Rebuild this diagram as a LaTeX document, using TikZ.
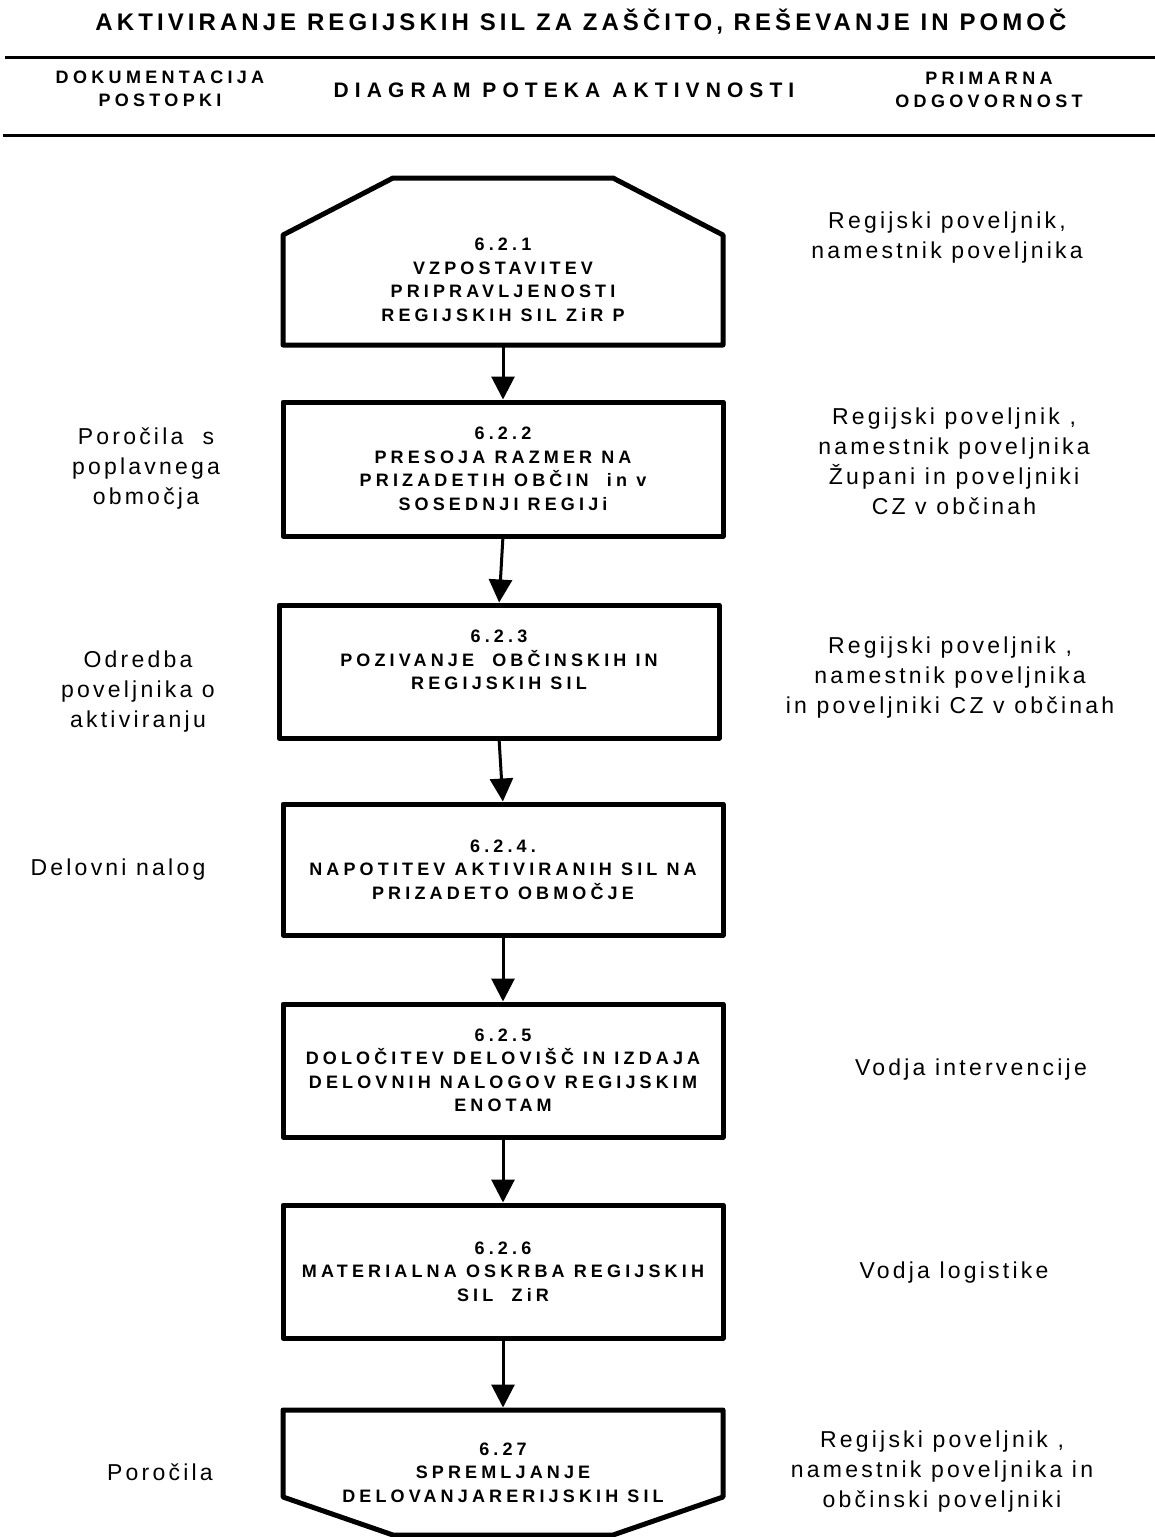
\documentclass[tikz,border=0pt]{standalone}
\usepackage{fontspec}
\setmainfont{Liberation Sans}
\usetikzlibrary{arrows.meta}

\begin{document}
\begin{tikzpicture}[x=0.5pt,y=-0.5pt,
	boxnode/.style={draw, line width=2.5pt, line join=round, minimum width=220pt, inner sep=0pt, outer sep=0pt, align=center,
		font=\fontsize{9pt}{11.75pt}\selectfont\bfseries\addfontfeatures{LetterSpace=23}},
	shapenode/.style={boxnode, draw=none},
	outline/.style={line width=2.5pt, line join=round},
	arrowline/.style={line width=1.5pt, -{Triangle[length=11.5pt,width=11.5pt]}, shorten >=1.25pt},
	sidetext/.style={align=center, inner sep=0pt, font=\fontsize{11.5pt}{15pt}\selectfont\addfontfeatures{LetterSpace=14}},
	headtext/.style={align=center, inner sep=0pt, font=\fontsize{9pt}{11.5pt}\selectfont\bfseries\addfontfeatures{LetterSpace=24}},
	headrule/.style={line width=1.5pt}]
				%%%%% HEADER %%%%%
				\def\xc{503}
				\def\rise{57}
				\def\cut{110}
				\useasboundingbox (0,0) rectangle (1155,1537);

				\node[headtext, font=\fontsize{12pt}{14pt}\selectfont\bfseries\addfontfeatures{LetterSpace=17}] (title) at (581,22) {AKTIVIRANJE REGIJSKIH SIL ZA ZAŠČITO, REŠEVANJE IN POMOČ};
				\draw[headrule] (5,57) -- (1155,57);
				\node[headtext] (hdoc) at (160,88.5) {DOKUMENTACIJA\\POSTOPKI};
				\node[headtext, font=\fontsize{10.5pt}{12pt}\selectfont\bfseries\addfontfeatures{LetterSpace=29}] (hdiag) at (564,90) {DIAGRAM POTEKA AKTIVNOSTI};
				\node[headtext] (hresp) at (989,89.5) {PRIMARNA\\ODGOVORNOST};
				\draw[headrule] (3,135) -- (1155,135);

				%%%%% FLOW %%%%%
				\node[shapenode, minimum height=83.5pt] (b1) at (\xc,261.5) {\mbox{}\\[13pt]6.2.1\\VZPOSTAVITEV\\PRIPRAVLJENOSTI\\REGIJSKIH SIL ZiR P};
				\draw[outline] (b1.south west) -- ++(0,-110) -- ++(\cut,-\rise) -- ++(220,0) -- ++(\cut,\rise) -- (b1.south east) -- cycle;

				\node[boxnode, minimum height=67pt] (b2) at (\xc,469) {6.2.2\\PRESOJA RAZMER NA\\PRIZADETIH OBČIN~ in v\\SOSEDNJI REGIJi};
				\node[boxnode, minimum height=66.5pt] (b3) at (499,671.5) {6.2.3\\POZIVANJE~ OBČINSKIH IN\\REGIJSKIH SIL\\\mbox{}};
				\node[boxnode, minimum height=65.5pt] (b4) at (\xc,869.5) {6.2.4.\\NAPOTITEV AKTIVIRANIH SIL NA\\PRIZADETO OBMOČJE};
				\node[boxnode, minimum height=66.5pt] (b5) at (\xc,1070.5) {6.2.5\\DOLOČITEV DELOVIŠČ IN IZDAJA\\DELOVNIH NALOGOV REGIJSKIM\\ENOTAM};
				\node[boxnode, minimum height=66.5pt] (b6) at (\xc,1271.5) {6.2.6\\MATERIALNA OSKRBA REGIJSKIH\\SIL~ ZiR};

				\node[shapenode, minimum height=62.5pt] (b7) at (\xc,1472.5) {6.27\\SPREMLJANJE\\DELOVANJARERIJSKIH SIL};
				\draw[outline] (b7.north west) -- (b7.north east) -- ++(0,87) -- ++(-\cut,38) -- ++(-220,0) -- ++(-\cut,-38) -- cycle;

				\draw[arrowline] (b1.south) -- (b2.north);
				\draw[arrowline] (b2.south) -- (b3.north);
				\draw[arrowline] (b3.south) -- (b4.north);
				\draw[arrowline] (b4.south) -- (b5.north);
				\draw[arrowline] (b5.south) -- (b6.north);
				\draw[arrowline] (b6.south) -- (b7.north);

				%%%%% DOCUMENTS %%%%%
				\node[sidetext] (d2) at (146,469) {Poročila~ s\\poplavnega\\območja};
				\node[sidetext] (d3) at (138,692) {Odredba\\poveljnika o\\aktiviranju};
				\node[sidetext] (d4) at (118,870) {Delovni nalog};
				\node[sidetext] (d7) at (160,1472) {Poročila};

				%%%%% RESPONSIBILITY %%%%%
				\node[sidetext] (r1) at (947,238) {Regijski poveljnik,\\namestnik poveljnika};
				\node[sidetext] (r2) at (954,461) {Regijski poveljnik ,\\namestnik poveljnika\\Župani in poveljniki\\CZ v občinah};
				\node[sidetext] (r3) at (950,678) {Regijski poveljnik ,\\namestnik poveljnika\\in poveljniki CZ v občinah};
				\node[sidetext] (r5) at (971,1070) {Vodja intervencije};
				\node[sidetext] (r6) at (954,1273) {Vodja logistike};
				\node[sidetext] (r7) at (942,1472) {Regijski poveljnik ,\\namestnik poveljnika in\\občinski poveljniki};
				%%%%% END %%%%%
			\end{tikzpicture}
\end{document}
